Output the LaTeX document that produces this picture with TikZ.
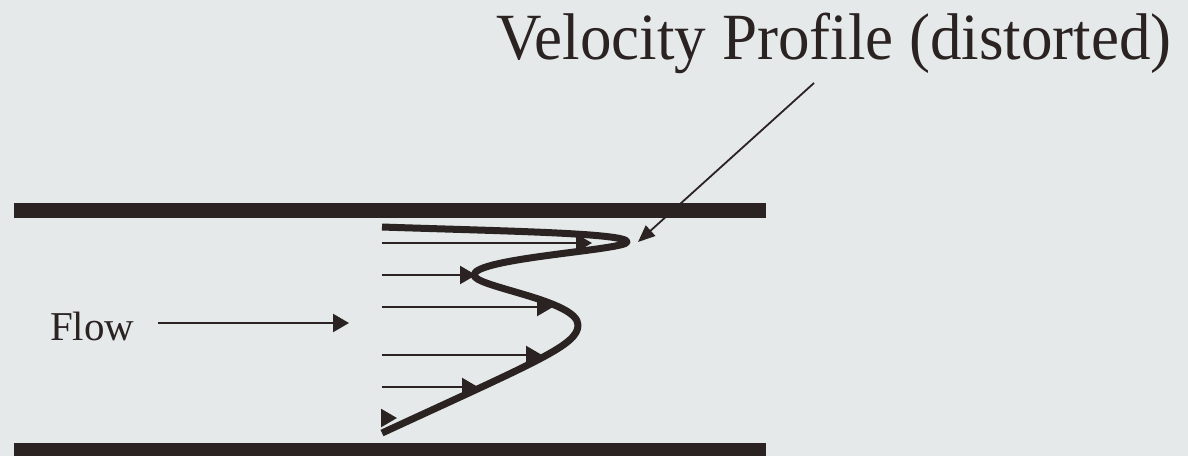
\documentclass[tikz,border=0pt]{standalone}
\usepackage{fontspec}
\setmainfont{Liberation Serif}
\usetikzlibrary{arrows.meta}
\definecolor{bg}{RGB}{229,233,234}
\definecolor{ink}{RGB}{43,34,34}
\begin{document}
\begin{tikzpicture}[x=1pt,y=-1pt,
  wall/.style={fill=ink,draw=none},
  vec/.style={draw=ink,line width=2.4pt,-{Triangle[length=16pt,width=18pt]}},
  pointer/.style={draw=ink,line width=1.8pt,-{Triangle[length=17pt,width=14pt]}},
  profile/.style={draw=ink,line width=7pt,line cap=butt,line join=round},
  lbl/.style={text=ink,inner sep=0pt,anchor=base west}]
\fill[bg] (0,0) rectangle (1188,456);
\useasboundingbox (0,0) rectangle (1188,456);
% walls
\path[wall] (14,203) rectangle (766,218);
\path[wall] (14,443) rectangle (766,456);
% labels
\node[lbl,font=\fontsize{66}{72}\selectfont,xscale=0.955] (title) at (496,59) {Velocity Profile (distorted)};
\node[lbl,font=\fontsize{41}{46}\selectfont] (flow) at (50,340) {Flow};
% flow arrow
\coordinate (fs) at (158,323);
\coordinate (fe) at (349,323);
\draw[vec] (fs) -- (fe);
% velocity vectors
\coordinate (a1) at (382,243); \coordinate (b1) at (592,243);
\coordinate (a2) at (382,275); \coordinate (b2) at (476,275);
\coordinate (a3) at (382,307); \coordinate (b3) at (553,307);
\coordinate (a4) at (382,355); \coordinate (b4) at (542,355);
\coordinate (a5) at (382,387); \coordinate (b5) at (478,387);
\coordinate (a6) at (382,418); \coordinate (b6) at (397,418);
\foreach \i in {1,...,6} {\draw[vec] (a\i) -- (b\i);}
% profile curve
\draw[profile] (382,227) .. controls (500,231) and (628,233) .. (627,242)
  .. controls (626,250) and (474,258) .. (474,275)
  .. controls (474,287) and (578,300) .. (578,325)
  .. controls (578,345) and (540,360) .. (382,433);
% pointer
\coordinate (ps) at (814,83);
\coordinate (pe) at (638,242);
\draw[pointer] (ps) -- (pe);
\end{tikzpicture}
\end{document}
